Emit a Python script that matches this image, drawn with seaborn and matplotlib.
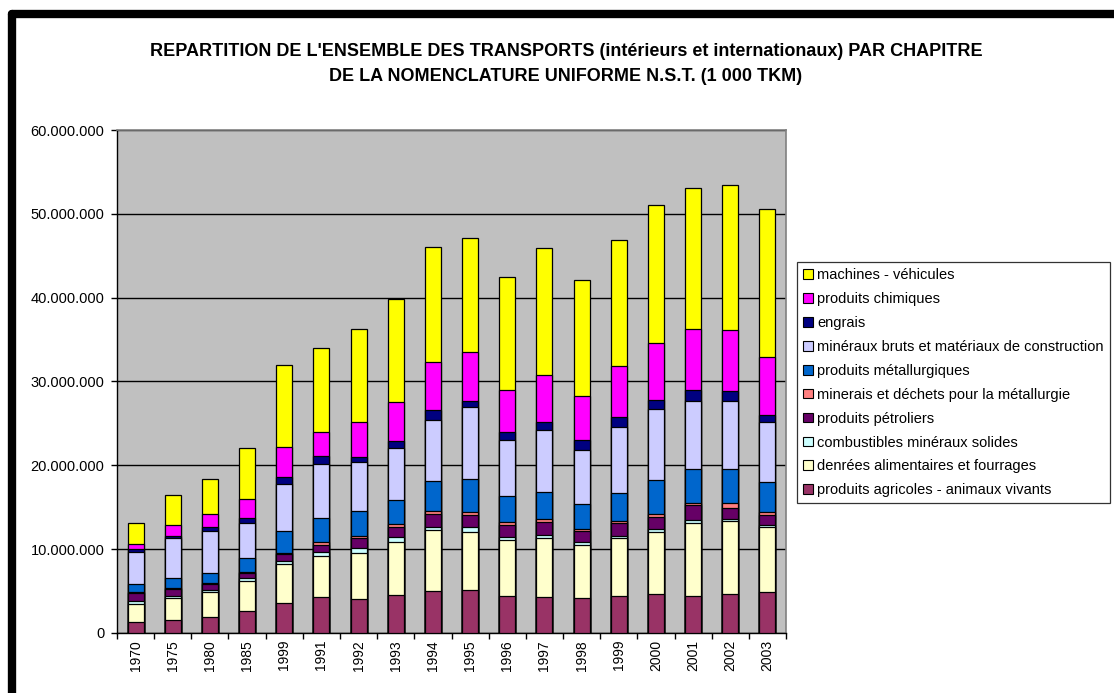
import matplotlib
matplotlib.use("Agg")
import matplotlib.pyplot as plt
import matplotlib.patches as mpatches
from matplotlib.lines import Line2D
from matplotlib.ticker import FuncFormatter, FixedLocator
import seaborn as sns
import numpy as np
import pandas as pd

# Data (values in millions of 1 000 TKM)
years = ["1970", "1975", "1980", "1985", "1999", "1991", "1992", "1993", "1994",
         "1995", "1996", "1997", "1998", "1999", "2000", "2001", "2002", "2003"]

agricoles = [1.28, 1.59, 1.91, 2.58, 3.58, 4.30, 4.06, 4.57, 4.96,
             5.17, 4.42, 4.33, 4.13, 4.42, 4.65, 4.45, 4.65, 4.89]
denrees = [2.15, 2.54, 2.94, 3.58, 4.65, 4.84, 5.49, 6.32, 7.28,
           6.92, 6.63, 7.00, 6.41, 6.87, 7.43, 8.68, 8.66, 7.71]
combustibles = [0.39, 0.32, 0.32, 0.40, 0.40, 0.56, 0.55, 0.51, 0.40,
                0.56, 0.40, 0.39, 0.32, 0.32, 0.32, 0.36, 0.29, 0.32]
petroliers = [0.92, 0.80, 0.68, 0.64, 0.84, 0.84, 1.24, 1.24, 1.55,
              1.38, 1.43, 1.47, 1.26, 1.52, 1.43, 1.74, 1.31, 1.11]
minerais = [0.10, 0.10, 0.12, 0.10, 0.12, 0.27, 0.27, 0.31, 0.39,
            0.41, 0.31, 0.41, 0.29, 0.24, 0.39, 0.29, 0.60, 0.36]
metallurgiques = [0.95, 1.19, 1.19, 1.67, 2.63, 2.95, 2.98, 2.86, 3.50,
                  3.94, 3.15, 3.26, 2.98, 3.34, 3.97, 4.09, 4.09, 3.58]
mineraux = [3.82, 4.77, 4.96, 4.13, 5.61, 6.44, 5.81, 6.25, 7.36,
            8.59, 6.72, 7.40, 6.48, 7.88, 8.52, 8.03, 8.03, 7.16]
engrais = [0.36, 0.31, 0.48, 0.56, 0.72, 0.87, 0.55, 0.87, 1.11,
           0.67, 0.87, 0.95, 1.11, 1.19, 1.07, 1.40, 1.28, 0.92]
chimiques = [0.63, 1.31, 1.60, 2.35, 3.58, 2.95, 4.18, 4.57, 5.73,
             5.89, 5.01, 5.57, 5.25, 6.04, 6.80, 7.28, 7.28, 6.89]
machines = [2.54, 3.51, 4.18, 6.04, 9.82, 9.99, 11.18, 12.37, 13.77,
            13.60, 13.53, 15.19, 13.93, 15.08, 16.47, 16.79, 17.30, 17.58]

labels = ["produits agricoles - animaux vivants", "denrées alimentaires et fourrages",
          "combustibles minéraux solides", "produits pétroliers",
          "minerais et déchets pour la métallurgie", "produits métallurgiques",
          "minéraux bruts et matériaux de construction", "engrais",
          "produits chimiques", "machines - véhicules"]
colors = ["#993366", "#FFFFCC", "#CCFFFF", "#660066", "#FF8080",
          "#0066CC", "#CCCCFF", "#000080", "#FF00FF", "#FFFF00"]
series = [agricoles, denrees, combustibles, petroliers, minerais,
          metallurgiques, mineraux, engrais, chimiques, machines]

sns.set_style("white")
plt.rcParams["font.family"] = ["Liberation Sans", "DejaVu Sans"]
plt.rcParams["text.color"] = "black"
plt.rcParams["xtick.color"] = "black"
plt.rcParams["ytick.color"] = "black"

fig = plt.figure(figsize=(11.14, 6.93), dpi=100)
ax = fig.add_axes([0.105, 0.0866, 0.6006, 0.7258])
ax.set_facecolor("#C0C0C0")

# cumulative stacks, drawn from the tallest down
cum = np.cumsum(np.array(series) * 1e6, axis=0)
pos = np.arange(len(years))
for i in range(len(series) - 1, -1, -1):
    df = pd.DataFrame({"pos": pos, "val": cum[i]})
    sns.barplot(data=df, x="pos", y="val", color=colors[i], saturation=1,
                edgecolor="black", linewidth=0.9, width=0.43, ax=ax, zorder=3)

ax.set_ylim(0, 60e6)
ax.set_xlim(-0.5, len(years) - 0.5)
ax.set_yticks(np.arange(0, 60e6 + 1, 10e6))
ax.yaxis.set_major_formatter(FuncFormatter(lambda v, p: "0" if v == 0 else f"{int(v):,}".replace(",", ".")))
ax.yaxis.grid(True, color="black", linewidth=1.0, zorder=1)
ax.set_axisbelow(True)

ax.xaxis.set_major_locator(FixedLocator(np.arange(-0.5, len(years), 1.0)))
ax.xaxis.set_minor_locator(FixedLocator(pos))
ax.set_xticklabels([], minor=False)
ax.set_xticklabels(years, minor=True, rotation=90)
ax.tick_params(axis="x", which="major", length=4, width=1, color="black", direction="out", bottom=True)
ax.tick_params(axis="x", which="minor", length=0, labelsize=10, pad=5)
ax.tick_params(axis="y", length=4, width=1, color="black", direction="out", left=True, labelsize=10.5, pad=5)
ax.set_xlabel("")
ax.set_ylabel("")

for s in ["top", "right"]:
    ax.spines[s].set_color("#808080")
    ax.spines[s].set_linewidth(1.2)
for s in ["left", "bottom"]:
    ax.spines[s].set_color("black")
    ax.spines[s].set_linewidth(1.0)

fig.text(0.508, 0.926, "REPARTITION DE L'ENSEMBLE DES TRANSPORTS (intérieurs et internationaux) PAR CHAPITRE",
         ha="center", va="center", fontsize=13, fontweight="bold")
fig.text(0.508, 0.890, "DE LA NOMENCLATURE UNIFORME N.S.T. (1 000 TKM)",
         ha="center", va="center", fontsize=13, fontweight="bold")

handles = [mpatches.Patch(facecolor=colors[i], edgecolor="black", linewidth=0.8, label=labels[i])
           for i in range(len(labels) - 1, -1, -1)]
leg = fig.legend(handles=handles, loc="upper left", bbox_to_anchor=(797 / 1114, 1 - 262 / 693),
                 fontsize=10.5, frameon=True, fancybox=False, shadow=False,
                 handlelength=0.65, handleheight=0.65, handletextpad=0.3,
                 labelspacing=0.68, borderpad=0.42, borderaxespad=0)
leg.get_frame().set_edgecolor("black")
leg.get_frame().set_linewidth(0.9)

# outer chart frame (top and left edges visible)
fig.add_artist(Line2D([0.0105, 1.0], [0.9805, 0.9805], color="black", linewidth=6, transform=fig.transFigure))
fig.add_artist(Line2D([0.0105, 0.0105], [0.0, 0.9805], color="black", linewidth=6, transform=fig.transFigure))

fig.savefig("out.png", dpi=100)
